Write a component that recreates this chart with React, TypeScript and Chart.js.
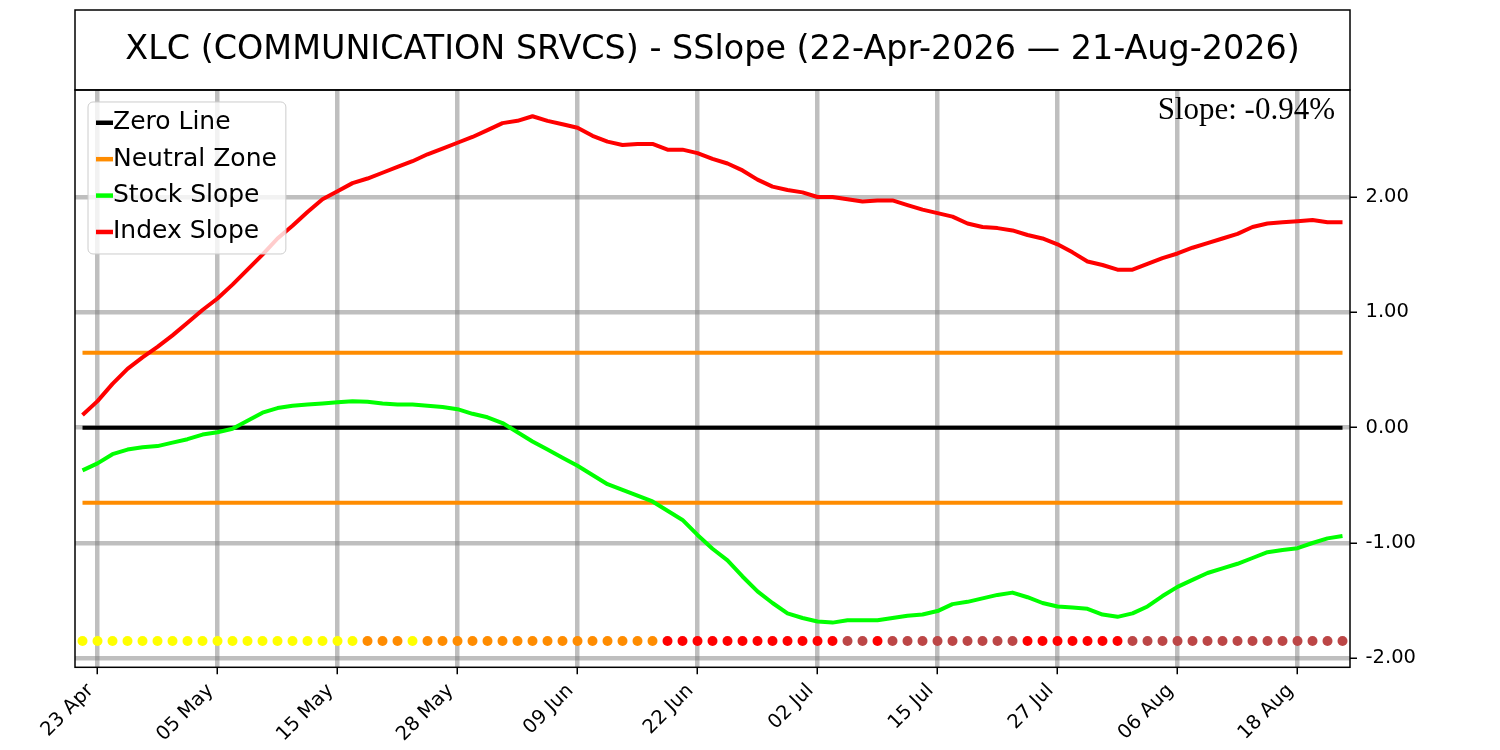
import React, { useEffect, useRef } from 'react';
import { Chart, registerables } from 'chart.js';

Chart.register(...registerables);

// ---- data ----
const dates = [
  '22 Apr', '23 Apr', '24 Apr', '27 Apr', '28 Apr', '29 Apr', '30 Apr',
  '01 May', '04 May', '05 May', '06 May', '07 May', '08 May', '11 May', '12 May', '13 May', '14 May', '15 May',
  '18 May', '19 May', '20 May', '21 May', '22 May', '26 May', '27 May', '28 May', '29 May',
  '01 Jun', '02 Jun', '03 Jun', '04 Jun', '05 Jun', '08 Jun', '09 Jun', '10 Jun', '11 Jun', '12 Jun',
  '15 Jun', '16 Jun', '17 Jun', '18 Jun', '22 Jun', '23 Jun', '24 Jun', '25 Jun', '26 Jun', '29 Jun', '30 Jun',
  '01 Jul', '02 Jul', '06 Jul', '07 Jul', '08 Jul', '09 Jul', '10 Jul', '13 Jul', '14 Jul', '15 Jul',
  '16 Jul', '17 Jul', '20 Jul', '21 Jul', '22 Jul', '23 Jul', '24 Jul', '27 Jul', '28 Jul', '29 Jul', '30 Jul', '31 Jul',
  '03 Aug', '04 Aug', '05 Aug', '06 Aug', '07 Aug', '10 Aug', '11 Aug', '12 Aug', '13 Aug', '14 Aug',
  '17 Aug', '18 Aug', '19 Aug', '20 Aug', '21 Aug',
];

const tickLabels = ['23 Apr', '05 May', '15 May', '28 May', '09 Jun', '22 Jun', '02 Jul', '15 Jul', '27 Jul', '06 Aug', '18 Aug'];

const indexSlope = [
  0.11, 0.23, 0.38, 0.51, 0.61, 0.70, 0.80, 0.91, 1.02, 1.12,
  1.24, 1.37, 1.50, 1.64, 1.75, 1.87, 1.98, 2.05, 2.12, 2.16,
  2.21, 2.26, 2.31, 2.37, 2.42, 2.47, 2.52, 2.58, 2.64, 2.66,
  2.70, 2.66, 2.63, 2.60, 2.53, 2.48, 2.45, 2.46, 2.46, 2.41,
  2.41, 2.38, 2.33, 2.29, 2.23, 2.15, 2.09, 2.06, 2.04, 2.00,
  2.00, 1.98, 1.96, 1.97, 1.97, 1.93, 1.89, 1.86, 1.83, 1.77,
  1.74, 1.73, 1.71, 1.67, 1.64, 1.59, 1.52, 1.44, 1.41, 1.37,
  1.37, 1.42, 1.47, 1.51, 1.56, 1.60, 1.64, 1.68, 1.74, 1.77,
  1.78, 1.79, 1.80, 1.78, 1.78,
];

const stockSlope = [
  -0.37, -0.31, -0.23, -0.19, -0.17, -0.16, -0.13, -0.10, -0.06, -0.04,
  -0.01, 0.06, 0.13, 0.17, 0.19, 0.20, 0.21, 0.22, 0.23, 0.225,
  0.21, 0.20, 0.20, 0.19, 0.18, 0.16, 0.12, 0.09, 0.04, -0.04,
  -0.12, -0.19, -0.26, -0.33, -0.41, -0.49, -0.54, -0.59, -0.64, -0.72,
  -0.80, -0.93, -1.05, -1.15, -1.29, -1.42, -1.52, -1.61, -1.65, -1.68,
  -1.69, -1.67, -1.67, -1.67, -1.65, -1.63, -1.62, -1.59, -1.53, -1.51,
  -1.48, -1.45, -1.43, -1.47, -1.52, -1.55, -1.56, -1.57, -1.62, -1.64,
  -1.61, -1.55, -1.46, -1.38, -1.32, -1.26, -1.22, -1.18, -1.13, -1.08,
  -1.06, -1.045, -1.00, -0.96, -0.94,
];

// Y = yellow, O = orange, R = red, B = brown-red
const dotStates = [
  'Y', 'Y', 'Y', 'Y', 'Y', 'Y', 'Y', 'Y', 'Y', 'Y',
  'Y', 'Y', 'Y', 'Y', 'Y', 'Y', 'Y', 'Y', 'Y', 'O',
  'O', 'O', 'Y', 'O', 'O', 'O', 'O', 'O', 'O', 'O',
  'O', 'O', 'O', 'O', 'O', 'O', 'O', 'O', 'O', 'R',
  'R', 'R', 'R', 'R', 'R', 'R', 'R', 'R', 'R', 'R',
  'R', 'B', 'B', 'R', 'B', 'B', 'B', 'B', 'B', 'B',
  'B', 'B', 'B', 'R', 'R', 'R', 'R', 'R', 'R', 'R',
  'B', 'B', 'B', 'B', 'B', 'B', 'B', 'B', 'B', 'B',
  'B', 'B', 'B', 'B', 'B',
];

const stateColors: Record<string, string> = {
  Y: '#FFFF00',
  O: '#FF8C00',
  R: '#FF0000',
  B: '#BC4646',
};

const zeroLevel = 0;
const neutralUpper = 0.65;
const neutralLower = -0.65;
const dotLevel = -1.85;
const yTicks = [-2, -1, 0, 1, 2];
const yMin = -2.0775;
const yMax = 2.9275;
const titleText = 'XLC (COMMUNICATION SRVCS) - SSlope (22-Apr-2026 \u2014 21-Aug-2026)';
const slopeValue = stockSlope[stockSlope.length - 1];

const FONT = '"DejaVu Sans", sans-serif';
const TITLE_TOP = 10;

const framePlugin = {
  id: 'framePlugin',
  afterDatasetsDraw(chart: any) {
    const { ctx, chartArea } = chart;
    const { left, top, right, bottom } = chartArea;
    ctx.save();
    // plot frame and title frame
    ctx.strokeStyle = '#000000';
    ctx.lineWidth = 1.5;
    ctx.strokeRect(left, top, right - left, bottom - top);
    ctx.strokeRect(left, TITLE_TOP, right - left, top - TITLE_TOP);

    // slope annotation
    ctx.fillStyle = '#000000';
    ctx.font = '31px "Liberation Serif", "Times New Roman", serif';
    ctx.textAlign = 'right';
    ctx.textBaseline = 'alphabetic';
    ctx.fillText(`Slope: ${slopeValue.toFixed(2)}%`, right - 15, top + 29.5);

    // legend
    const entries = chart.data.datasets.filter((d: any) => d.legendEntry);
    ctx.font = `25px ${FONT}`;
    const handleX0 = left + 21;
    const handleX1 = left + 38;
    const textX = left + 38;
    const maxW = Math.max(...entries.map((e: any) => ctx.measureText(e.label).width));
    const boxX = left + 13;
    const boxY = top + 12;
    const rowH = 36.4;
    const boxW = textX + maxW + 9 - boxX;
    const boxH = 152;
    ctx.beginPath();
    if ((ctx as any).roundRect) {
      (ctx as any).roundRect(boxX, boxY, boxW, boxH, 5);
    } else {
      ctx.rect(boxX, boxY, boxW, boxH);
    }
    ctx.fillStyle = 'rgba(255,255,255,0.8)';
    ctx.fill();
    ctx.strokeStyle = '#cccccc';
    ctx.lineWidth = 1;
    ctx.stroke();

    entries.forEach((e: any, k: number) => {
      const cy = top + 32.8 + k * rowH;
      ctx.beginPath();
      ctx.strokeStyle = e.borderColor;
      ctx.lineWidth = 4.5;
      ctx.moveTo(handleX0, cy);
      ctx.lineTo(handleX1, cy);
      ctx.stroke();
      ctx.fillStyle = '#000000';
      ctx.textAlign = 'left';
      ctx.textBaseline = 'middle';
      ctx.fillText(e.label, textX, cy);
    });
    ctx.restore();
  },
};

export default function App() {
  const canvasRef = useRef<HTMLCanvasElement | null>(null);

  useEffect(() => {
    if (!canvasRef.current) return;
    const first = dates[0];
    const last = dates[dates.length - 1];
    const lineBase = {
      pointRadius: 0,
      pointHoverRadius: 0,
      fill: false,
      tension: 0,
      borderWidth: 4,
      borderJoinStyle: 'round' as const,
      borderCapStyle: 'butt' as const,
    };
    const chart = new Chart(canvasRef.current, {
      type: 'line',
      data: {
        labels: dates,
        datasets: [
          {
            ...lineBase,
            label: 'Zero Line',
            legendEntry: true,
            data: [{ x: first, y: zeroLevel }, { x: last, y: zeroLevel }],
            borderColor: '#000000',
            order: 5,
          } as any,
          {
            ...lineBase,
            label: 'Neutral Zone',
            legendEntry: true,
            data: [{ x: first, y: neutralUpper }, { x: last, y: neutralUpper }],
            borderColor: '#FF8C00',
            order: 4,
          } as any,
          {
            ...lineBase,
            label: 'Neutral Zone Lower',
            data: [{ x: first, y: neutralLower }, { x: last, y: neutralLower }],
            borderColor: '#FF8C00',
            order: 4,
          } as any,
          {
            ...lineBase,
            label: 'Stock Slope',
            legendEntry: true,
            data: stockSlope,
            borderColor: '#00FF00',
            order: 3,
          } as any,
          {
            ...lineBase,
            label: 'Index Slope',
            legendEntry: true,
            data: indexSlope,
            borderColor: '#FF0000',
            order: 2,
          } as any,
          {
            label: 'Signal',
            data: dotStates.map(() => dotLevel),
            showLine: false,
            pointRadius: 5,
            pointHoverRadius: 5,
            pointBorderWidth: 0,
            pointBackgroundColor: dotStates.map((s) => stateColors[s]),
            borderColor: 'transparent',
            order: 1,
          } as any,
        ],
      },
      options: {
        animation: false,
        responsive: false,
        events: [],
        layout: { padding: { left: 75, top: TITLE_TOP, right: 0, bottom: 0 } },
        plugins: {
          legend: { display: false },
          tooltip: { enabled: false },
          title: {
            display: true,
            text: titleText,
            fullSize: false,
            color: '#000000',
            font: { family: FONT, size: 33.4, weight: 'normal', lineHeight: 1.2 },
            padding: { top: 20, bottom: 19.9 },
          },
        },
        scales: {
          x: {
            type: 'category',
            offset: true,
            border: { display: false },
            grid: {
              color: 'rgba(128,128,128,0.5)',
              lineWidth: 4.5,
              drawTicks: true,
              tickLength: 7,
              tickColor: '#000000',
              tickWidth: 1.5,
            },
            ticks: {
              autoSkip: false,
              maxRotation: 45,
              minRotation: 45,
              padding: 5,
              labelOffset: -7,
              color: '#000000',
              font: { family: FONT, size: 19.5 },
              callback: function (this: any, _v: any, i: number) {
                const lab = dates[i];
                return tickLabels.includes(lab) ? lab : null;
              },
            },
            afterFit: (scale: any) => {
              scale.height = 82.7;
            },
          },
          y: {
            type: 'linear',
            position: 'right',
            min: yMin,
            max: yMax,
            border: { display: false },
            grid: {
              color: 'rgba(128,128,128,0.5)',
              lineWidth: 4.5,
              drawTicks: true,
              tickLength: 7,
              tickColor: '#000000',
              tickWidth: 1.5,
            },
            ticks: {
              color: '#000000',
              padding: 8.5,
              font: { family: FONT, size: 19.5 },
              callback: (v: any) => Number(v).toFixed(2),
            },
            afterBuildTicks: (scale: any) => {
              scale.ticks = yTicks.map((v) => ({ value: v }));
            },
            afterFit: (scale: any) => {
              scale.width = 150;
            },
          },
        },
      },
      plugins: [framePlugin],
    });
    return () => chart.destroy();
  }, []);

  return (
    <div style={{ position: 'absolute', left: 0, top: 0, width: 1500, height: 750, background: '#ffffff' }}>
      <canvas ref={canvasRef} width={1500} height={750} style={{ width: 1500, height: 750, display: 'block' }} />
    </div>
  );
}
